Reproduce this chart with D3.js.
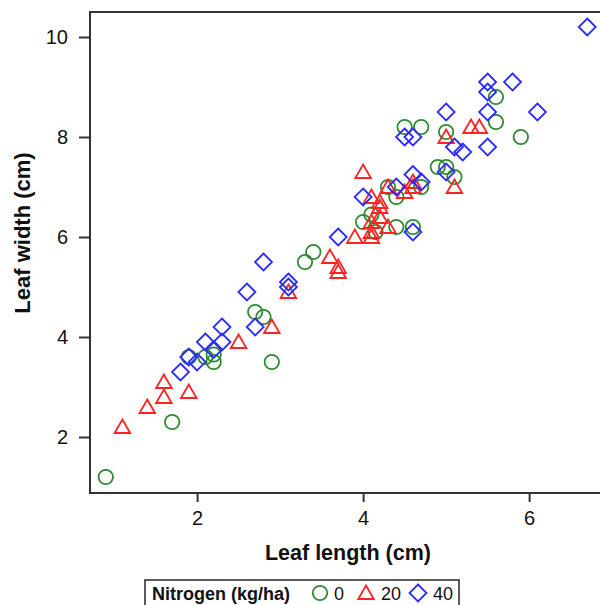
<!DOCTYPE html>
<html>
<head>
<meta charset="utf-8">
<script src="https://cdn.jsdelivr.net/npm/d3@7"></script>
<style>
  html, body { margin:0; padding:0; background:#fff; }
  svg { display:block; font-family: "Liberation Sans", Arial, sans-serif; }
</style>
</head>
<body>
<svg id="chart" width="600" height="605"></svg>
<script>
// Values: [leaf length, leaf width] in cm, per nitrogen level.
var N0 = [
  [0.9,1.2],[1.7,2.3],[1.9,3.6],[2.1,3.6],[2.2,3.65],[2.2,3.5],[2.9,3.5],
  [2.7,4.5],[2.8,4.4],[3.3,5.5],[3.4,5.7],[4.0,6.3],[4.1,6.45],[4.15,6.1],
  [4.4,6.2],[4.6,6.2],[4.3,7.0],[4.4,6.8],[4.7,7.0],[4.9,7.4],[5.0,7.4],
  [5.1,7.2],[4.5,8.2],[4.7,8.2],[5.0,8.1],[5.6,8.8],[5.6,8.3],[5.9,8.0]
];
var N20 = [
  [1.1,2.2],[1.4,2.6],[1.6,2.8],[1.6,3.1],[1.9,2.9],[2.5,3.9],[2.9,4.2],
  [3.1,4.9],[3.6,5.6],[3.7,5.4],[3.7,5.3],[3.9,6.0],[4.1,6.0],[4.1,6.1],
  [4.1,6.3],[4.2,6.4],[4.2,6.6],[4.2,6.7],[4.1,6.8],[4.3,6.2],[4.0,7.3],
  [4.3,7.0],[4.5,6.9],[4.6,7.0],[4.6,7.1],[5.1,7.0],[5.0,8.0],[5.3,8.2],[5.4,8.2]
];
var N40 = [
  [1.8,3.3],[1.9,3.6],[2.0,3.5],[2.1,3.9],[2.2,3.75],[2.3,3.9],[2.3,4.2],
  [2.6,4.9],[2.7,4.2],[2.8,5.5],[3.1,5.1],[3.1,5.0],[3.7,6.0],[4.0,6.8],
  [4.4,7.0],[4.6,7.25],[4.7,7.1],[4.6,6.1],[5.0,7.3],[4.5,8.0],[4.6,8.0],
  [5.1,7.8],[5.2,7.7],[5.0,8.5],[5.5,7.8],[5.5,8.5],[5.5,8.9],[5.5,9.1],
  [5.8,9.1],[6.1,8.5],[6.7,10.2]
];
var LEVELS = ['0','20','40'];
var X_TICKS = [2,4,6];
var Y_TICKS = [2,4,6,8,10];

var COL = { '0':'#2e8b2e', '20':'#ff2222', '40':'#2c2cff' };
var SYM = { '0':'circle', '20':'triangle', '40':'diamond' };

var svg = d3.select('#chart');
var L = 90, T = 12, R = 603, B = 493;

var x = d3.scaleLinear([0.71, 6.89], [L, R]);
var y = d3.scaleLinear([0.88, 10.5], [B, T]);

// frame: left, top, bottom (right side is cut off by the picture edge)
svg.append('rect').attr('x',L).attr('y',T).attr('width',R-L).attr('height',B-T)
   .attr('fill','none').attr('stroke','#333').attr('stroke-width',2);

var ax = svg.append('g').attr('transform','translate(0,'+B+')')
   .call(d3.axisBottom(x).tickValues(X_TICKS).tickSize(9).tickPadding(9).tickFormat(d3.format('d')));
var ay = svg.append('g').attr('transform','translate('+L+',0)')
   .call(d3.axisLeft(y).tickValues(Y_TICKS).tickSize(11).tickPadding(11).tickFormat(d3.format('d')));
[ax, ay].forEach(function(a){
  a.select('.domain').remove();
  a.selectAll('line').attr('stroke','#333').attr('stroke-width',2);
  a.selectAll('text').attr('fill','#111').style('font-size','20px')
   .style('font-family','"Liberation Sans", Arial, sans-serif');
});

svg.append('text').attr('x',348).attr('y',560).attr('text-anchor','middle')
   .attr('font-weight','bold').attr('font-size',21.5).attr('fill','#111').text('Leaf length (cm)');
svg.append('text').attr('transform','translate(30,233) rotate(-90)').attr('text-anchor','middle')
   .attr('font-weight','bold').attr('font-size',22).attr('fill','#111').text('Leaf width (cm)');

function shape(k, cx, cy){
  if (SYM[k]==='circle') return circlePath(cx,cy,7.2);
  if (SYM[k]==='triangle') return 'M'+cx+','+(cy-7.5)+'L'+(cx+7.8)+','+(cy+6)+'L'+(cx-7.8)+','+(cy+6)+'Z';
  return 'M'+cx+','+(cy-8.5)+'L'+(cx+8.5)+','+cy+'L'+cx+','+(cy+8.5)+'L'+(cx-8.5)+','+cy+'Z';
}
function circlePath(cx,cy,r){
  var p = d3.path(); p.moveTo(cx+r,cy); p.arc(cx,cy,r,0,2*Math.PI); p.closePath(); return p.toString();
}

var SERIES = [['0',N0],['20',N20],['40',N40]];
var gPts = svg.append('g');
SERIES.forEach(function(s){
  gPts.append('g').selectAll('path').data(s[1]).join('path')
    .attr('d',function(d){ return shape(s[0], x(d[0]), y(d[1])); })
    .attr('fill','none').attr('stroke',COL[s[0]]).attr('stroke-width',1.8);
});

// legend
var lg = svg.append('g');
lg.append('rect').attr('x',145).attr('y',580).attr('width',314).attr('height',40)
  .attr('fill','#fff').attr('stroke','#333').attr('stroke-width',1.6);
lg.append('text').attr('x',152).attr('y',600).attr('font-weight','bold').attr('font-size',18)
  .attr('fill','#111').text('Nitrogen (kg/ha)');
var LX = { '0':[320,334], '20':[366,381], '40':[418,433] };
LEVELS.forEach(function(k){
  lg.append('path').attr('d',shape(k, LX[k][0], 593)).attr('fill','none')
    .attr('stroke',COL[k]).attr('stroke-width',1.8);
  lg.append('text').attr('x',LX[k][1]).attr('y',600).attr('font-size',18).attr('fill','#111').text(k);
});
</script>
</body>
</html>
